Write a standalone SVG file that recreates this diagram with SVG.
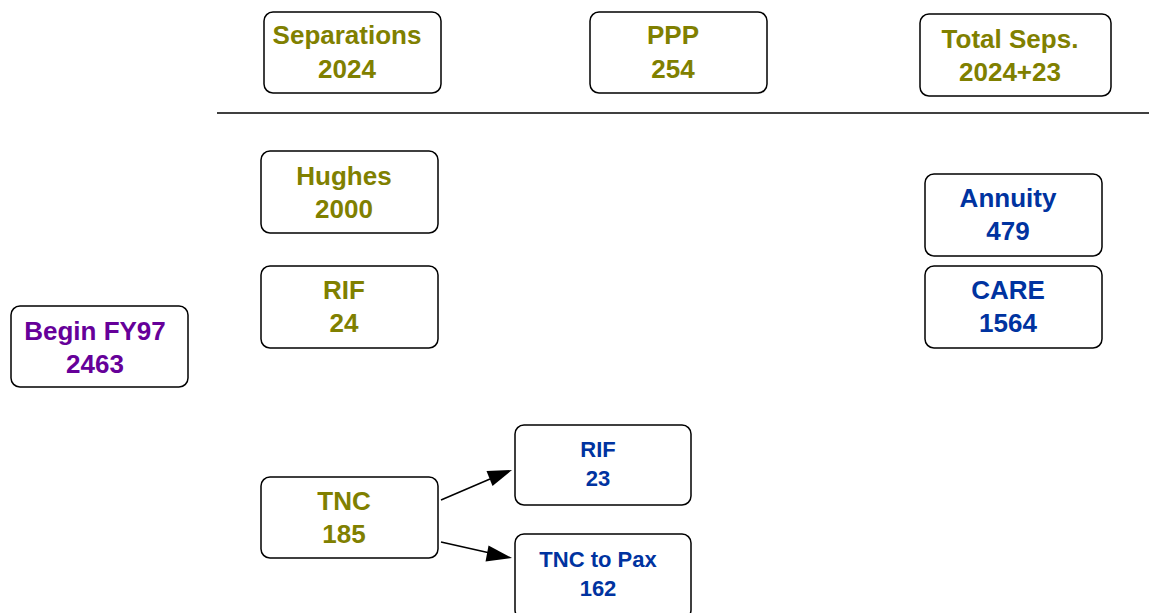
<svg xmlns="http://www.w3.org/2000/svg" width="1149" height="613" viewBox="0 0 1149 613">
<style>
.box{fill:#fff;stroke:#000;stroke-width:1.5}
.t{font-family:Liberation Sans;font-weight:700;text-anchor:middle}
.big{font-size:26px}
.sm{font-size:22px}
.ol{fill:#808000}
.bl{fill:#0033a0}
.pu{fill:#660099}
.conn{stroke:#000;stroke-width:1.5;fill:none}
</style>
<line x1="217" y1="113" x2="1149" y2="113" stroke="#000" stroke-width="1.5"/>
<g id="separations"><rect class="box" x="264" y="12" width="177" height="81" rx="9"/><text class="t big ol" x="347" y="44">Separations</text><text class="t big ol" x="347" y="78">2024</text></g>
<g id="ppp"><rect class="box" x="590" y="12" width="177" height="81" rx="9"/><text class="t big ol" x="673" y="44">PPP</text><text class="t big ol" x="673" y="78">254</text></g>
<g id="total"><rect class="box" x="920" y="14" width="191" height="82" rx="9"/><text class="t big ol" x="1010" y="48">Total Seps.</text><text class="t big ol" x="1010" y="81">2024+23</text></g>
<g id="hughes"><rect class="box" x="261" y="151" width="177" height="82" rx="9"/><text class="t big ol" x="344" y="185">Hughes</text><text class="t big ol" x="344" y="218">2000</text></g>
<g id="rif1"><rect class="box" x="261" y="266" width="177" height="82" rx="9"/><text class="t big ol" x="344" y="299">RIF</text><text class="t big ol" x="344" y="332">24</text></g>
<g id="begin"><rect class="box" x="11" y="306" width="177" height="81" rx="9"/><text class="t big pu" x="95" y="340">Begin FY97</text><text class="t big pu" x="95" y="373">2463</text></g>
<g id="annuity"><rect class="box" x="925" y="174" width="177" height="82" rx="9"/><text class="t big bl" x="1008" y="207">Annuity</text><text class="t big bl" x="1008" y="240">479</text></g>
<g id="care"><rect class="box" x="925" y="266" width="177" height="82" rx="9"/><text class="t big bl" x="1008" y="299">CARE</text><text class="t big bl" x="1008" y="332">1564</text></g>
<g id="tnc"><rect class="box" x="261" y="477" width="177" height="81" rx="9"/><text class="t big ol" x="344" y="510">TNC</text><text class="t big ol" x="344" y="543">185</text></g>
<g id="rif2"><rect class="box" x="515" y="425" width="176" height="80" rx="9"/><text class="t sm bl" x="598" y="457">RIF</text><text class="t sm bl" x="598" y="486">23</text></g>
<g id="tnctopax"><rect class="box" x="515" y="534" width="176" height="85" rx="9"/><text class="t sm bl" x="598" y="567">TNC to Pax</text><text class="t sm bl" x="598" y="596">162</text></g>
<g id="connectors">
<line class="conn" x1="441" y1="500" x2="490" y2="479"/>
<polygon points="512,470 486.5,471 492.5,486" fill="#000"/>
<line class="conn" x1="441" y1="542" x2="490" y2="553"/>
<polygon points="512,558 488.5,545.5 485.5,561.5" fill="#000"/>
</g>
</svg>
